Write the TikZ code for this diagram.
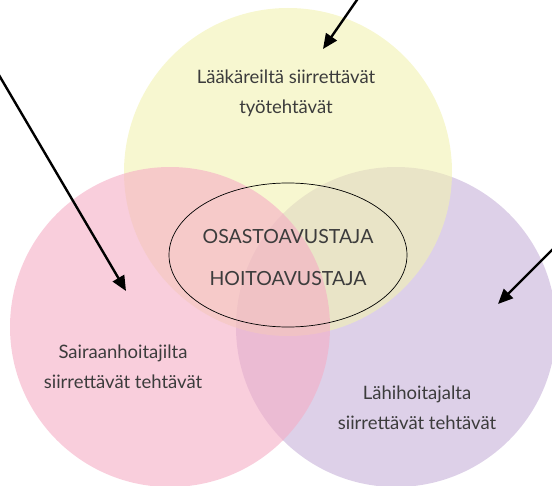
\documentclass[tikz,border=0pt]{standalone}
\usepackage{fontspec}
\setmainfont{Lato}
\usetikzlibrary{arrows.meta,shapes.geometric}
\definecolor{cyellow}{RGB}{242,242,177}
\definecolor{cpink}{RGB}{245,173,197}
\definecolor{cpurple}{RGB}{198,177,217}
\definecolor{ctext}{RGB}{60,60,60}
\tikzset{
  venn/.style={circle, inner sep=0pt, minimum size=322pt, fill opacity=0.6, draw=none},
  lbl/.style={text=ctext, align=center, font=\fontsize{18.5}{30}\selectfont},
  core/.style={ellipse, draw=black, line width=0.7pt, inner sep=0pt, minimum width=238pt, minimum height=144pt},
  coretext/.style={text=ctext, align=center, font=\fontsize{19.5}{42}\selectfont},
  pointer/.style={line width=2.4pt, -{Triangle[length=15pt,width=13pt]}}
}
\begin{document}
\begin{tikzpicture}[x=1pt,y=-1pt]
\useasboundingbox (0,0) rectangle (552,486);
\clip (0,0) rectangle (552,486);
\node[venn, fill=cpurple, minimum size=320pt] (purple) at (396,327) {};
\node[venn, fill=cyellow, minimum size=328pt] (yellow) at (288,172) {};
\node[venn, fill=cpink, minimum size=320pt] (pink) at (170,327) {};
\node[core] (core) at (288,255) {};
\node[coretext] (coretxt) at (288,258) {OSASTOAVUSTAJA\\HOITOAVUSTAJA};
\node[lbl] (tl) at (286,93) {Lääkäreiltä siirrettävät\\työtehtävät};
\node[lbl] (pl) at (123,367) {Sairaanhoitajilta\\siirrettävät tehtävät};
\node[lbl] (ll) at (417,408) {Lähihoitajalta\\siirrettävät tehtävät};
\coordinate (a1s) at (359,-3);
\coordinate (a1e) at (323,49);
\coordinate (a2s) at (-4,70);
\coordinate (a2e) at (126,291);
\coordinate (a3s) at (556,246);
\coordinate (a3e) at (498,304);
\draw[pointer] (a1s) -- (a1e);
\draw[pointer] (a2s) -- (a2e);
\draw[pointer] (a3s) -- (a3e);
\end{tikzpicture}
\end{document}
